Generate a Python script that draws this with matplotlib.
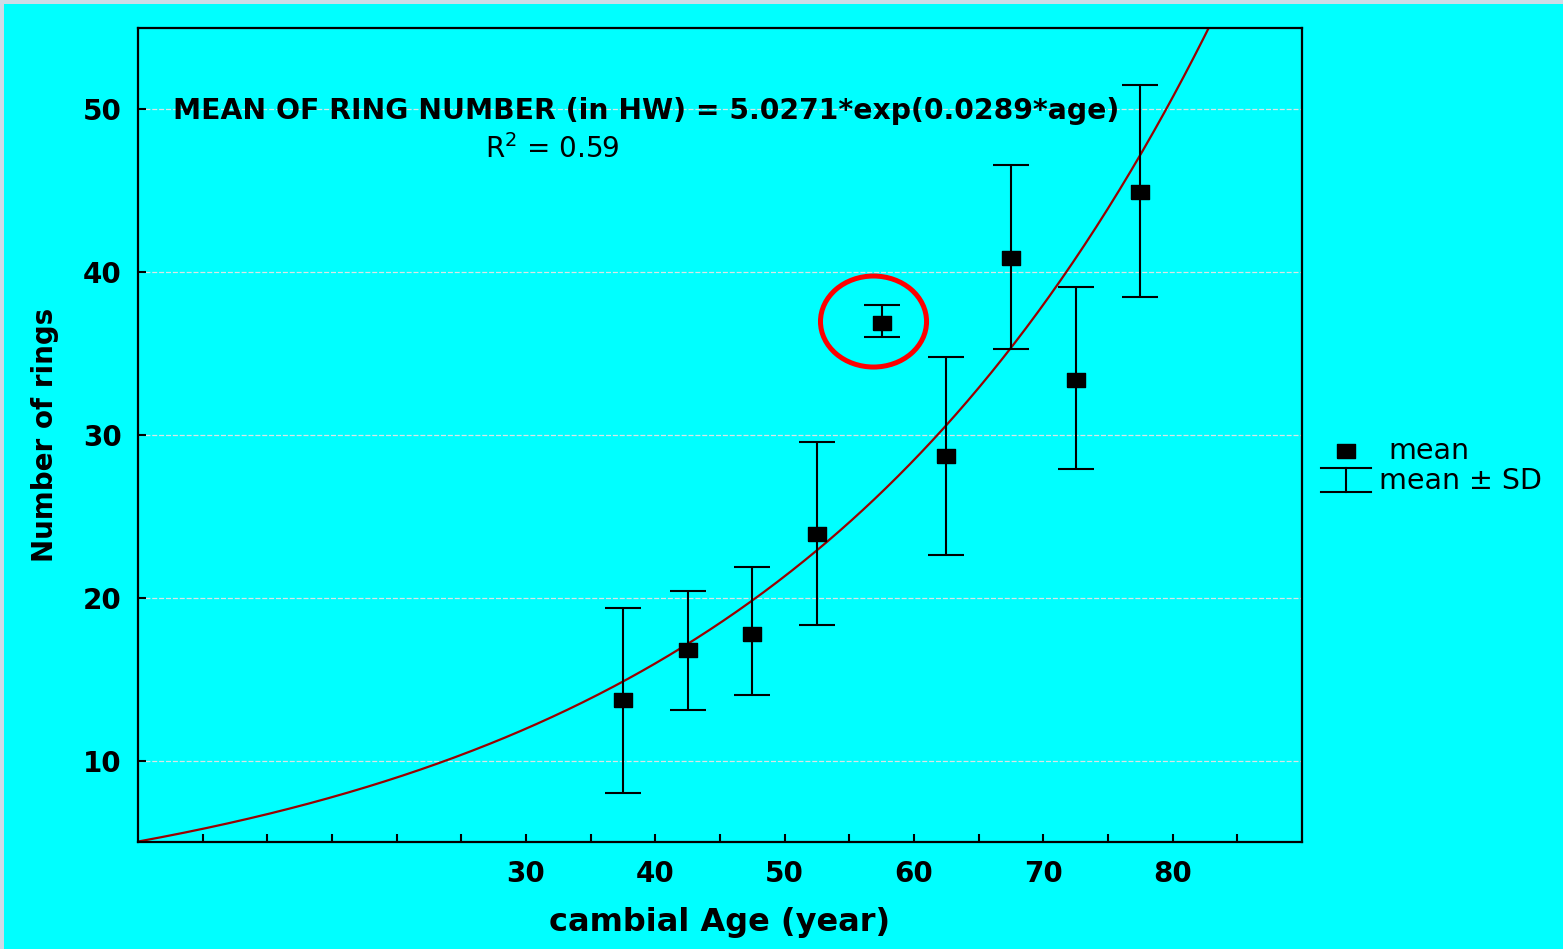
import numpy as np
import matplotlib
matplotlib.use("Agg")
import matplotlib.pyplot as plt
from matplotlib.patches import Ellipse, Rectangle
from matplotlib.lines import Line2D

# Class mid-points of cambial age and ring-number statistics
age = [37.5, 42.5, 47.5, 52.5, 57.5, 62.5, 67.5, 72.5, 77.5]
mean_rings = [13.7, 16.8, 17.8, 23.9, 36.9, 28.7, 40.9, 33.4, 44.9]
upper_sd = [19.4, 20.4, 21.9, 29.6, 38.0, 34.8, 46.6, 39.1, 51.5]
lower_sd = [8.0, 13.1, 14.0, 18.3, 36.0, 22.6, 35.3, 27.9, 38.5]

# Exponential fit parameters
fit_a = 5.0271
fit_b = 0.0289

x_ticks = [5, 10, 15, 20, 25, 30, 35, 40, 45, 50, 55, 60, 65, 70, 75, 80, 85]
x_labelled = [30, 40, 50, 60, 70, 80]
y_ticks = [10, 20, 30, 40, 50]

plt.rcParams["font.family"] = ["DejaVu Sans"]

CYAN = "#00FFFF"
W, H, DPI = 1563, 949, 100

# slightly wide square marker
BOX = [(-8.5, -6.8), (8.5, -6.8), (8.5, 6.8), (-8.5, 6.8), (-8.5, -6.8)]
MS = 12.3

fig = plt.figure(figsize=(W / DPI, H / DPI), dpi=DPI, facecolor=CYAN)
# thin slide margin along top and left edges
fig.patches.append(Rectangle((0, 0), 4 / W, 1, transform=fig.transFigure,
                             facecolor="#cfdbe6", edgecolor="none", zorder=0))
fig.patches.append(Rectangle((0, 1 - 4 / H), 1, 4 / H, transform=fig.transFigure,
                             facecolor="#cfdbe6", edgecolor="none", zorder=0))

ax = fig.add_axes([138 / W, 107 / H, (1302 - 138) / W, (842 - 28) / H])
ax.set_facecolor(CYAN)
ax.set_xlim(0, 90)
ax.set_ylim(5, 55)

# horizontal grid
for yv in y_ticks:
    ax.axhline(yv, color="#d8e6e6", lw=0.9, ls=(0, (4, 1.5)), zorder=1)

# fitted curve
xs = np.linspace(0, 90, 600)
ax.plot(xs, fit_a * np.exp(fit_b * xs), color="#9a0000", lw=1.6, zorder=2)

# means with +/- SD
mean_arr = np.array(mean_rings)
yerr = [mean_arr - np.array(lower_sd), np.array(upper_sd) - mean_arr]
ax.errorbar(age, mean_rings, yerr=yerr, fmt="none", ecolor="black",
            elinewidth=1.5, capsize=13.3, capthick=1.5, zorder=3)
ax.plot(age, mean_rings, ls="none", marker=BOX, ms=MS, color="black", zorder=4)

# highlighted point
ax.add_patch(Ellipse((56.87, 36.97), 8.2, 5.59, fill=False, edgecolor="#ff0000",
                     lw=3.6, zorder=5))

# equation text
ax.text(2.7, 49.9, "MEAN OF RING NUMBER (in HW) = 5.0271*exp(0.0289*age)",
        fontsize=20.3, fontweight="bold", ha="left", va="center", zorder=6)
ax.text(26.8, 47.55, "R$^2$ = 0.59", fontsize=20, ha="left", va="center", zorder=6)

# ticks
ax.set_xticks(x_ticks)
ax.set_xticklabels([str(v) if v in x_labelled else "" for v in x_ticks],
                   fontsize=20, fontweight="bold")
ax.set_yticks(y_ticks)
ax.set_yticklabels([str(v) for v in y_ticks], fontsize=20, fontweight="bold")
ax.tick_params(axis="both", direction="in", length=6, width=1.5, colors="black")
ax.tick_params(axis="x", pad=13)
ax.tick_params(axis="y", pad=11.7)
for sp in ax.spines.values():
    sp.set_linewidth(1.6)

ax.set_xlabel("cambial Age (year)", fontsize=23, fontweight="bold", va="center")
ax.xaxis.set_label_coords(0.5, (842 - 923) / 814)
ax.set_ylabel("Number of rings", fontsize=20, fontweight="bold",
              va="center", ha="center", rotation_mode="default")
ax.yaxis.set_label_coords((45.5 - 138) / 1164, 0.5)

# legend drawn beside the plot
def fx(px):
    return px / W

def fy(py):
    return 1 - py / H

fig.add_artist(Line2D([fx(1346)], [fy(451)], ls="none", marker=BOX, ms=MS,
                      color="black", transform=fig.transFigure))
fig.text(fx(1388), fy(459), "mean", fontsize=20.5, ha="left", va="baseline")
for yy in (468, 492):
    fig.add_artist(Line2D([fx(1321), fx(1371)], [fy(yy), fy(yy)], color="black",
                          lw=1.5, transform=fig.transFigure))
fig.add_artist(Line2D([fx(1346), fx(1346)], [fy(468), fy(492)], color="black",
                      lw=1.5, transform=fig.transFigure))
fig.text(fx(1379), fy(489), "mean \u00b1 SD", fontsize=20.5, ha="left",
         va="baseline")

fig.savefig("out.png", dpi=DPI, facecolor=CYAN)
